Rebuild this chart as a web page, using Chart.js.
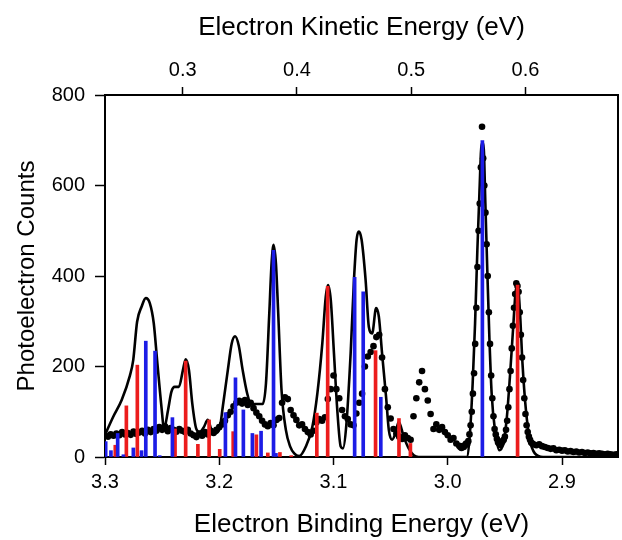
<!DOCTYPE html>
<html>
<head>
<meta charset="utf-8">
<script src="https://cdn.jsdelivr.net/npm/chart.js@4.4.1/dist/chart.umd.min.js"></script>
<style>
  html, body { margin: 0; padding: 0; background: #fff; }
  canvas { display: block; }
</style>
</head>
<body>
<canvas id="pes" width="622" height="540"></canvas>
<script>
// photon energy (eV) : kinetic = photonEnergy - binding
const photonEnergy = 3.532;
const bindingRange = [2.851, 3.3];

const bindingTicks = [3.3, 3.2, 3.1, 3.0, 2.9];
const kineticTicks = [0.3, 0.4, 0.5, 0.6];
const countTicks = [0, 200, 400, 600, 800];

// A : 3.300 -> 2.9925 eV, step 0.0025
const expCountsA = [
  48, 45, 50, 47, 52, 48, 55, 50, 53, 49,
  56, 51, 54, 58, 52, 60, 55, 62, 58, 66,
  60, 68, 57, 64, 60, 56, 62, 58, 55, 60,
  52, 48, 44, 52, 47, 55, 50, 58, 53, 60,
  66, 72, 80, 92, 100, 112, 120, 124, 118, 126,
  115, 120, 108, 98, 90, 80, 72, 68, 75, 70,
  82, 86, 120, 132, 128, 104, 92, 82, 70, 72,
  62, 55, 50, 58, 76, 84, 80, 88, 128, 150,
  180, 150, 130, 104, 90, 84, 72, 70, 96, 120,
  140, 200, 222, 232, 245, 265, 270, 220, 150, 110,
  85, 62, 52, 45, 40, 48, 42, 38, 90, 130,
  165, 190, 150, 125, 95, 62, 72, 60, 66, 55,
  48, 38, 42, 30
];
// B : 2.990 -> 2.925 eV, step 0.001 (the two sharp peaks)
const expCountsB = [
  25, 22, 20, 24, 22, 26, 30, 28, 35, 50,
  70, 100, 140, 185, 250, 330, 420, 500, 560, 640,
  730, 660, 600, 540, 470, 400, 320, 250, 180, 130,
  90, 62, 50, 40, 32, 30, 26, 30, 35, 38,
  45, 60, 80, 110, 150, 190, 240, 290, 330, 360,
  384, 378, 365, 320, 270, 220, 170, 130, 95, 70,
  55, 45, 38, 32, 30, 28
];
// C : 2.9225 -> 2.850 eV, step 0.0025
const expCountsC = [
  26, 28, 24, 22, 20, 18, 19, 15, 16, 14,
  15, 12, 13, 11, 12, 10, 11, 9, 10, 8,
  9, 7, 8, 7, 6, 7, 6, 5, 6, 5
];

// simulated spectrum (solid line)
const simBE = [
  3.300, 3.2928, 3.2854, 3.2782, 3.2753, 3.2719, 3.2680, 3.2643, 3.2608, 3.2573,
  3.2544, 3.2506, 3.2483, 3.2448, 3.2419, 3.2390, 3.2353, 3.2318, 3.2294, 3.2265,
  3.2236, 3.2201, 3.2172, 3.2137, 3.2100, 3.2068, 3.2041, 3.1998, 3.1969, 3.1925,
  3.1891, 3.1861, 3.1830, 3.1795, 3.1756, 3.1722, 3.1620, 3.1591, 3.1562, 3.1542,
  3.1525, 3.1504, 3.1484, 3.1455, 3.1417, 3.1379, 3.1344, 3.1301, 3.1242, 3.1185,
  3.1141, 3.1098, 3.1068, 3.1048, 3.1024, 3.0996, 3.0967, 3.0937, 3.0917, 3.0889,
  3.0850, 3.0821, 3.0798, 3.0778, 3.0754, 3.0719, 3.0691, 3.0662, 3.0627, 3.0603,
  3.0575, 3.0540, 3.0516, 3.0488, 3.0458, 3.0429, 3.0386, 3.0342, 3.0298, 3.0255,
  2.9834, 2.9804, 2.9782, 2.9761, 2.9741, 2.9723, 2.9703, 2.9688, 2.9671, 2.9654,
  2.9636, 2.9616, 2.9587, 2.9549, 2.9514, 2.9485, 2.9456, 2.9427, 2.9404, 2.9386,
  2.9369, 2.9346, 2.9316, 2.9282, 2.9238, 2.9166, 2.8500
];
const simCounts = [
  49, 89, 126, 180, 214, 299, 332, 351, 340, 295,
  214, 111, 63, 104, 144, 155, 155, 192, 216, 192,
  118, 62, 55, 65, 82, 60, 52, 62, 111, 192,
  251, 267, 247, 192, 141, 117, 117, 163, 318, 428,
  469, 428, 318, 148, 60, 23, 8, 2, 23, 67,
  141, 251, 354, 380, 347, 229, 104, 23, 19, 67,
  229, 391, 480, 498, 480, 391, 288, 273, 329, 310,
  229, 133, 60, 38, 52, 78, 45, 19, 4, 0,
  0, 60, 163, 295, 457, 583, 693, 693, 561, 413,
  266, 141, 60, 15, 30, 82, 177, 288, 369, 376,
  325, 207, 104, 38, 8, 0, 0
];

// stick spectra
const blueBE  = [3.2994, 3.2948, 3.2889, 3.2839, 3.2752, 3.2680, 3.2643, 3.2562, 3.2521, 3.2410,
                 3.1946, 3.1858, 3.1789, 3.1710, 3.1634, 3.1525, 3.1504, 3.0815, 3.0740, 3.0586, 2.9697];
const blueInt = [34, 14, 52, 5, 20, 14, 256, 234, 3, 87,
                 98, 175, 104, 52, 57, 457, 8, 397, 365, 132, 699];
const redBE   = [3.2910, 3.2813, 3.2717, 3.2387, 3.2294, 3.2187, 3.2089, 3.1996, 3.1878, 3.1675,
                 3.1575, 3.1469, 3.1370, 3.1146, 3.1051, 3.0632, 3.0427, 3.0327, 2.9389];
const redInt  = [26, 113, 203, 62, 212, 28, 82, 17, 56, 49,
                 9, 10, 3, 97, 377, 235, 85, 30, 380];

const fontFamily = '"Liberation Sans", Arial, Helvetica, sans-serif';
const tickFont  = { family: fontFamily, size: 20 };
const titleFont = { family: fontFamily, size: 26 };
const yTitleFont = { family: fontFamily, size: 24 };

function segment(start, step, counts) {
  return counts.map((c, i) => ({ x: +(start - i * step).toFixed(4), y: c }));
}
const expPoints = [
  ...segment(3.300, 0.0025, expCountsA),
  ...segment(2.990, 0.001, expCountsB),
  ...segment(2.9225, 0.0025, expCountsC)
];
const pairs = (xs, ys) => xs.map((x, i) => ({ x, y: ys[i] }));

const axisGrid = (len) => ({
  display: true, drawOnChartArea: false, drawTicks: true, offset: false,
  tickLength: len, tickWidth: 1.5, color: '#000'
});
const axisBorder = { display: true, color: '#000', width: 2 };

new Chart(document.getElementById('pes'), {
  type: 'scatter',
  data: {
    datasets: [
      {
        type: 'bar', label: 'blue', data: pairs(blueBE, blueInt),
        backgroundColor: '#1c1ce6', barThickness: 3, grouped: false, order: 0
      },
      {
        type: 'bar', label: 'red', data: pairs(redBE, redInt),
        backgroundColor: '#ec1c1c', barThickness: 3, grouped: false, order: 0
      },
      {
        type: 'line', label: 'simulation', data: pairs(simBE, simCounts),
        borderColor: '#000', borderWidth: 2.6, pointRadius: 0,
        cubicInterpolationMode: 'monotone', fill: false, order: 1
      },
      {
        type: 'scatter', label: 'experiment', data: expPoints,
        backgroundColor: '#000', borderColor: '#000', pointRadius: 3.3,
        pointBorderWidth: 0, order: 2
      }
    ]
  },
  options: {
    responsive: false,
    animation: false,
    layout: { padding: 0 },
    plugins: { legend: { display: false }, tooltip: { enabled: false } },
    scales: {
      x: {
        type: 'linear', position: 'bottom', reverse: true, offset: false,
        min: bindingRange[0], max: bindingRange[1],
        afterBuildTicks: s => { s.ticks = bindingTicks.map(v => ({ value: v })); },
        afterFit: s => { s.height = 83; },
        ticks: { font: tickFont, color: '#000', padding: 5, maxRotation: 0, autoSkip: false,
                 callback: v => v.toFixed(1) },
        grid: axisGrid(8),
        border: axisBorder,
        title: { display: true, text: 'Electron Binding Energy (eV)', font: titleFont,
                 color: '#000', padding: { top: 0, bottom: 0 } }
      },
      x2: {
        type: 'linear', position: 'top', offset: false,
        min: photonEnergy - bindingRange[1], max: photonEnergy - bindingRange[0],
        afterBuildTicks: s => { s.ticks = kineticTicks.map(v => ({ value: v })); },
        afterFit: s => { s.height = 95; },
        ticks: { font: tickFont, color: '#000', padding: 5, maxRotation: 0, autoSkip: false,
                 callback: v => v.toFixed(1) },
        grid: axisGrid(8),
        border: axisBorder,
        title: { display: true, text: 'Electron Kinetic Energy (eV)', font: titleFont,
                 color: '#000', padding: { top: 12.4, bottom: 0 } }
      },
      y: {
        type: 'linear', position: 'left', min: 0, max: 800,
        afterBuildTicks: s => { s.ticks = countTicks.map(v => ({ value: v })); },
        afterFit: s => { s.width = 105; },
        ticks: { font: tickFont, color: '#000', padding: 10 },
        grid: axisGrid(10),
        border: axisBorder,
        title: { display: true, text: 'Photoelectron Counts', font: yTitleFont,
                 color: '#000', padding: { top: 12.6, bottom: 0 } }
      },
      y2: {
        type: 'linear', position: 'right', min: 0, max: 800,
        afterFit: s => { s.width = 2; },
        ticks: { display: false },
        grid: { display: true, drawOnChartArea: false, drawTicks: false },
        border: axisBorder
      }
    }
  }
});
</script>
</body>
</html>
